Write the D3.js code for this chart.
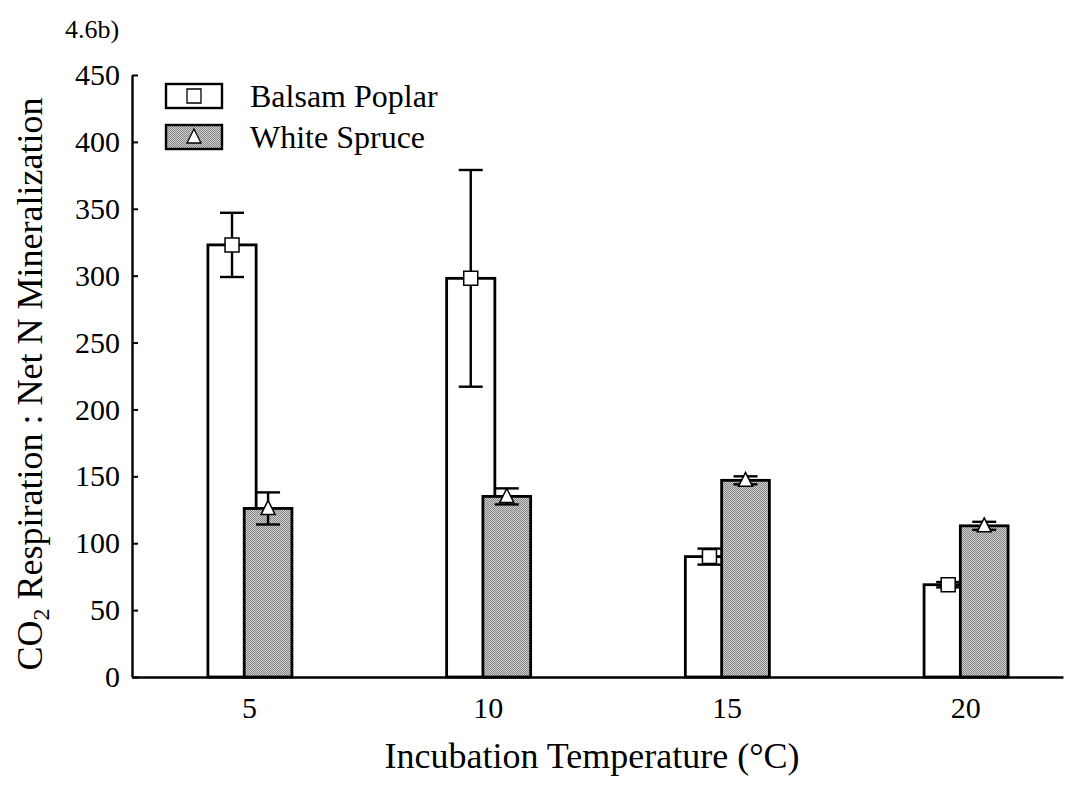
<!DOCTYPE html>
<html>
<head>
<meta charset="utf-8">
<script src="https://cdn.jsdelivr.net/npm/d3@7/dist/d3.min.js"></script>
<style>
  html, body { margin: 0; padding: 0; background: #fff; }
  svg { display: block; }
  text { font-family: "Liberation Serif", "Times New Roman", serif; fill: #000; }
</style>
</head>
<body>
<svg id="chart" width="1081" height="792"></svg>
<script>
// Incubation temperatures (°C)
const temperatures = [5, 10, 15, 20];
// Balsam Poplar: mean ratio and error
const poplarMean = [323, 298, 90, 69];
const poplarErr  = [24, 81, 6, 2];
// White Spruce: mean ratio and error
const spruceMean = [126, 135, 147, 113];
const spruceErr  = [12, 6, 3, 3];
// Axis ticks
const yTicks = [0, 50, 100, 150, 200, 250, 300, 350, 400, 450];
const seriesNames = ["Balsam Poplar", "White Spruce"];

const SERIF = "'Liberation Serif', 'Times New Roman', serif";
const svg = d3.select("#chart");
const plotLeft = 132, plotRight = 1063, plotTop = 75, plotBottom = 677;

const x = d3.scaleLinear().domain([2.55, 22.05]).range([plotLeft, plotRight]);
const y = d3.scaleLinear().domain([0, 450]).range([plotBottom, plotTop]);

// halftone grey fill for the spruce bars
const defs = svg.append("defs");
const pat = defs.append("pattern").attr("id", "grey")
  .attr("width", 2).attr("height", 2).attr("patternUnits", "userSpaceOnUse");
pat.append("rect").attr("width", 2).attr("height", 2).attr("fill", "#d0d0d0");
pat.append("rect").attr("width", 1).attr("height", 1).attr("fill", "#858585");
pat.append("rect").attr("x", 1).attr("y", 1).attr("width", 1).attr("height", 1).attr("fill", "#858585");

// bar extents in temperature units, relative to the category
const poplarSpan = [-0.86, 0.15];
const spruceSpan = [-0.1, 0.9];

const poplar = temperatures.map((t, i) => ({t, v: poplarMean[i], e: poplarErr[i]}));
const spruce = temperatures.map((t, i) => ({t, v: spruceMean[i], e: spruceErr[i]}));

function drawSeries(data, span, fill, marker) {
  const g = svg.append("g");
  g.selectAll("rect").data(data).enter().append("rect")
    .attr("x", d => x(d.t + span[0]))
    .attr("width", d => x(d.t + span[1]) - x(d.t + span[0]))
    .attr("y", d => y(d.v))
    .attr("height", d => y(0) - y(d.v))
    .attr("fill", fill).attr("stroke", "#000").attr("stroke-width", 2.8);
  const cx = d => x(d.t + (span[0] + span[1]) / 2);
  const eb = g.selectAll("g.eb").data(data).enter().append("g").attr("class", "eb")
    .attr("stroke", "#000").attr("stroke-width", 2.4);
  eb.append("line").attr("x1", cx).attr("x2", cx)
    .attr("y1", d => y(d.v + d.e)).attr("y2", d => y(d.v - d.e));
  eb.append("line").attr("x1", d => cx(d) - 12).attr("x2", d => cx(d) + 12)
    .attr("y1", d => y(d.v + d.e)).attr("y2", d => y(d.v + d.e));
  eb.append("line").attr("x1", d => cx(d) - 12).attr("x2", d => cx(d) + 12)
    .attr("y1", d => y(d.v - d.e)).attr("y2", d => y(d.v - d.e));
  g.selectAll("path.m").data(data).enter().append("path").attr("class", "m")
    .attr("transform", d => `translate(${cx(d)},${y(d.v)})`)
    .attr("d", marker)
    .attr("fill", "#fff").attr("stroke", "#000").attr("stroke-width", 1.5);
}

const squareMarker = "M-7,-7H7V7H-7Z";
const triangleMarker = "M0,-8L7,6H-7Z";

drawSeries(poplar, poplarSpan, "#fff", squareMarker);
drawSeries(spruce, spruceSpan, "url(#grey)", triangleMarker);

// axes
const yAxis = d3.axisLeft(y).tickValues(yTicks).tickSizeInner(-6).tickSizeOuter(0).tickPadding(12);
const gy = svg.append("g").attr("transform", `translate(${plotLeft},0)`).call(yAxis);
gy.attr("font-family", SERIF);
gy.selectAll("text").attr("font-size", 30).style("font-family", SERIF);
gy.selectAll("line").attr("stroke-width", 2);
gy.select(".domain").attr("stroke-width", 2.4);

const xAxis = d3.axisBottom(x).tickValues(temperatures).tickSize(0).tickPadding(20).tickFormat(d3.format("d"));
const gx = svg.append("g").attr("transform", `translate(0,${plotBottom})`).call(xAxis);
gx.attr("font-family", SERIF);
gx.selectAll("text").attr("font-size", 30).style("font-family", SERIF);
gx.select(".domain").attr("stroke-width", 2.6);

// titles
svg.append("text").attr("x", 65).attr("y", 38).attr("font-size", 26)
  .style("font-family", SERIF).text("4.6b)");

svg.append("text").attr("x", 592).attr("y", 768).attr("text-anchor", "middle")
  .attr("font-size", 36).style("font-family", SERIF).text("Incubation Temperature (°C)");

const yt = svg.append("text").attr("transform", "translate(42,384) rotate(-90)")
  .attr("text-anchor", "middle").attr("font-size", 36).style("font-family", SERIF);
yt.append("tspan").text("CO");
yt.append("tspan").attr("font-size", 24).attr("dy", 7).text("2");
yt.append("tspan").attr("dy", -7).text(" Respiration : Net N Mineralization");

// legend
const legend = svg.append("g");
const legFills = ["#fff", "url(#grey)"];
const legMarkers = [squareMarker, triangleMarker];
const legY = [84, 125];
seriesNames.forEach((name, i) => {
  legend.append("rect").attr("x", 166).attr("y", legY[i]).attr("width", 56).attr("height", 24)
    .attr("fill", legFills[i]).attr("stroke", "#000").attr("stroke-width", 2.4);
  legend.append("path").attr("transform", `translate(194,${legY[i] + 12})`)
    .attr("d", legMarkers[i]).attr("fill", "#fff").attr("stroke", "#000").attr("stroke-width", 1.3);
  legend.append("text").attr("x", 250).attr("y", legY[i] + 23).attr("font-size", 32)
    .style("font-family", SERIF).text(name);
});
</script>
</body>
</html>
